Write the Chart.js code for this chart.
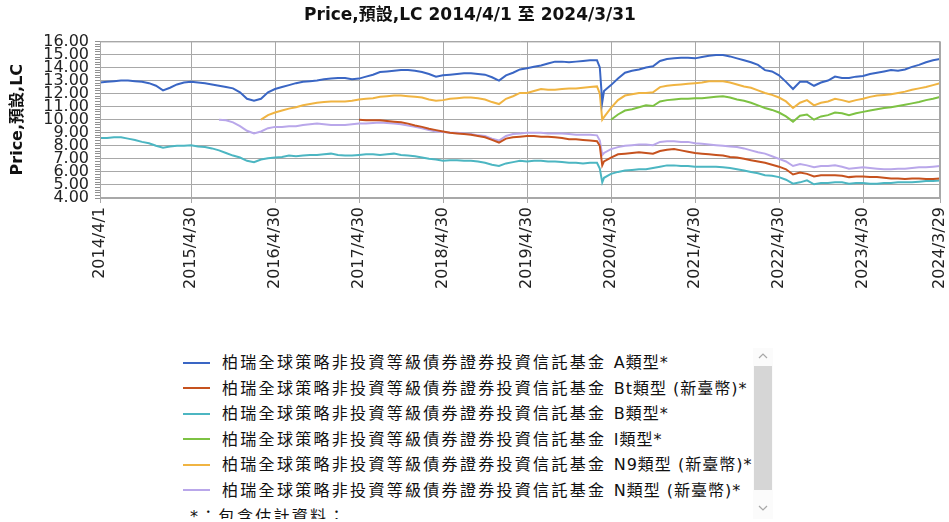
<!DOCTYPE html>
<html>
<head>
<meta charset="utf-8">
<script src="https://cdn.jsdelivr.net/npm/chart.js@4/dist/chart.umd.min.js"></script>
<style>
  html, body { margin: 0; padding: 0; background: #fff; width: 949px; height: 522px; overflow: hidden; }
  #wrap { position: absolute; left: 0; top: 0; width: 949px; height: 330px; }
  #legend {
    position: absolute; left: 176px; top: 350px; width: 576px; height: 169px;
    overflow: hidden; font-family: "DejaVu Sans", "Noto Sans CJK TC", sans-serif;
    font-size: 16px; letter-spacing: 2.3px; color: #111;
  }
  #legend .row { height: 25.6px; line-height: 25.6px; white-space: nowrap; padding-left: 7px; }
  #legend .sfx { letter-spacing: 1px; }
  #legend .sw { display: inline-block; width: 27px; height: 2px; vertical-align: middle; margin-right: 12px; position: relative; top: -1px; }
  #legend .note { height: 40px; line-height: 25.6px; padding-left: 14px; }
  /* fake scroll bar beside the legend */
  #sb { position: absolute; left: 753px; top: 348px; width: 20px; height: 171px; background: #fbfbfb; }
  #sb .thumb { position: absolute; left: 1px; top: 18px; width: 18px; height: 124px; background: #d6d6d6; }
  #sb svg { position: absolute; left: 5px; }
</style>
</head>
<body>
<div id="wrap"><canvas id="chart" width="949" height="330"></canvas></div>
<div id="legend"></div>
<div id="sb">
  <svg style="top:5px" width="10" height="6"><polyline points="1,5 5,1 9,5" fill="none" stroke="#a8a8a8" stroke-width="1.2"/></svg>
  <div class="thumb"></div>
  <svg style="top:157px" width="10" height="6"><polyline points="1,1 5,5 9,1" fill="none" stroke="#a8a8a8" stroke-width="1.2"/></svg>
</div>
<script>
// x positions in months since 2014/4/1 (two extra points for the March 2020 drop)
const months = [
  0,1,2,3,4,5,6,7,8,9,
  10,11,12,13,14,15,16,17,18,19,
  20,21,22,23,24,25,26,27,28,29,
  30,31,32,33,34,35,36,37,38,39,
  40,41,42,43,44,45,46,47,48,49,
  50,51,52,53,54,55,56,57,58,59,
  60,61,62,63,64,65,66,67,68,69,
  70,71,71.4,71.75,
  72,73,74,75,76,77,78,79,
  80,81,82,83,84,85,86,87,88,89,
  90,91,92,93,94,95,96,97,98,99,
  100,101,102,103,104,105,106,107,108,109,
  110,111,112,113,114,115,116,117,118,119,120
];

const tickPos = [0, 13, 25, 37, 49, 61, 73, 85, 97, 109, 120];
const tickLabels = ['2014/4/1', '2015/4/30', '2016/4/30', '2017/4/30', '2018/4/30', '2019/4/30',
  '2020/4/30', '2021/4/30', '2022/4/30', '2023/4/30', '2024/3/29'];

const fundName = '柏瑞全球策略非投資等級債券證券投資信託基金';
const seriesNames = ['A類型*', 'Bt類型 (新臺幣)*', 'B類型*', 'I類型*', 'N9類型 (新臺幣)*', 'N類型 (新臺幣)*'];
const seriesColors = ['#3a66c4', '#c6521e', '#4cb6c2', '#7dc243', '#f0b442', '#b9a7ea'];
const seriesStart = [0, 37, 0, 73, 23, 17];

const valA = [
  12.85,12.9,12.95,13.0,13.0,12.95,12.9,12.8,12.6,12.25,
  12.45,12.7,12.85,12.9,12.85,12.8,12.7,12.6,12.5,12.4,
  12.1,11.6,11.45,11.6,12.1,12.35,12.5,12.65,12.8,12.9,
  12.95,13.0,13.1,13.15,13.2,13.2,13.1,13.15,13.3,13.45,
  13.65,13.7,13.75,13.8,13.8,13.75,13.65,13.5,13.3,13.4,
  13.45,13.5,13.55,13.55,13.5,13.45,13.25,13.0,13.4,13.6,
  13.85,13.95,14.05,14.15,14.3,14.45,14.45,14.4,14.45,14.5,
  14.55,14.55,14.0,11.35,
  12.2,12.65,13.15,13.6,13.75,13.85,14.0,14.1,
  14.5,14.65,14.7,14.75,14.75,14.7,14.8,14.9,14.95,14.95,
  14.85,14.7,14.55,14.4,14.2,13.8,13.7,13.4,12.9,12.35,
  12.9,12.9,12.6,12.85,13.0,13.3,13.2,13.2,13.3,13.35,
  13.5,13.6,13.7,13.8,13.75,13.85,14.05,14.2,14.4,14.55,14.65
];

// Bt starts 2017/5
const valBt = [
  10.0,9.95,9.95,
  9.95,9.9,9.85,9.8,9.7,9.55,9.45,9.3,9.2,9.1,
  9.0,8.95,8.9,8.85,8.75,8.65,8.45,8.25,8.55,8.65,
  8.7,8.75,8.75,8.7,8.7,8.65,8.6,8.5,8.5,8.45,
  8.4,8.35,8.0,6.5,
  6.8,7.1,7.35,7.4,7.45,7.5,7.45,7.4,
  7.6,7.7,7.75,7.65,7.55,7.45,7.4,7.35,7.3,7.25,
  7.15,7.1,7.0,6.9,6.8,6.7,6.55,6.4,6.2,5.8,
  5.95,5.85,5.65,5.75,5.75,5.75,5.7,5.6,5.65,5.65,
  5.6,5.6,5.55,5.5,5.5,5.45,5.5,5.5,5.45,5.45,5.5
];

const valB = [
  8.6,8.6,8.65,8.65,8.55,8.45,8.3,8.2,8.0,7.85,
  7.95,8.0,8.0,8.05,7.95,7.9,7.8,7.65,7.45,7.25,
  7.1,6.85,6.75,6.95,7.05,7.1,7.15,7.25,7.2,7.25,
  7.3,7.3,7.35,7.4,7.3,7.25,7.25,7.3,7.35,7.35,
  7.3,7.35,7.4,7.3,7.25,7.2,7.1,7.0,6.95,6.85,
  6.9,6.9,6.85,6.85,6.8,6.7,6.55,6.45,6.65,6.75,
  6.85,6.8,6.85,6.85,6.8,6.8,6.75,6.7,6.7,6.65,
  6.7,6.7,6.25,5.2,
  5.55,5.85,6.0,6.1,6.15,6.2,6.2,6.3,
  6.4,6.5,6.5,6.45,6.45,6.4,6.4,6.4,6.4,6.35,
  6.3,6.2,6.1,6.0,5.9,5.75,5.7,5.6,5.4,5.1,
  5.2,5.35,5.05,5.15,5.15,5.2,5.2,5.1,5.15,5.15,
  5.1,5.1,5.15,5.15,5.2,5.2,5.2,5.25,5.3,5.3,5.35
];

// I starts 2020/5
const valI = [
  10.0,10.4,10.7,10.8,10.95,11.1,11.05,
  11.4,11.5,11.55,11.6,11.6,11.65,11.65,11.7,11.75,11.8,
  11.7,11.55,11.45,11.3,11.1,10.9,10.75,10.55,10.25,9.85,
  10.3,10.4,10.0,10.25,10.35,10.55,10.5,10.35,10.5,10.6,
  10.7,10.8,10.9,10.95,11.05,11.15,11.25,11.35,11.5,11.6,11.75
];

// N9 starts 2016/3
const valN9 = [
  10.0,10.35,10.55,10.7,10.85,10.95,11.1,
  11.2,11.3,11.35,11.4,11.4,11.4,11.45,11.55,11.6,11.65,
  11.75,11.8,11.85,11.85,11.8,11.75,11.7,11.55,11.45,11.5,
  11.6,11.65,11.7,11.7,11.65,11.55,11.35,11.2,11.6,11.8,
  12.05,12.05,12.2,12.35,12.3,12.3,12.35,12.4,12.4,12.45,
  12.5,12.55,12.0,10.0,
  10.2,10.9,11.5,11.85,11.95,12.05,12.05,12.1,
  12.5,12.6,12.65,12.7,12.75,12.8,12.85,12.95,12.95,12.95,
  12.85,12.7,12.55,12.45,12.25,12.05,11.9,11.7,11.4,10.9,
  11.3,11.5,11.1,11.3,11.4,11.6,11.5,11.35,11.5,11.6,
  11.75,11.85,11.9,11.95,12.05,12.15,12.3,12.4,12.5,12.65,12.8
];

// N starts 2015/9
const valN = [
  10.0,9.95,9.8,
  9.5,9.15,8.95,9.1,9.35,9.45,9.45,9.5,9.5,9.6,
  9.65,9.7,9.65,9.6,9.6,9.6,9.65,9.7,9.7,9.75,
  9.78,9.75,9.7,9.65,9.55,9.45,9.35,9.2,9.1,9.05,
  9.0,9.0,8.95,8.9,8.8,8.75,8.55,8.4,8.75,8.9,
  8.95,9.0,9.0,9.0,8.95,8.95,8.95,8.9,8.85,8.85,
  8.85,8.8,8.4,7.3,
  7.45,7.75,7.9,8.0,8.05,8.1,8.1,8.05,
  8.3,8.35,8.35,8.3,8.3,8.2,8.15,8.1,8.05,8.0,
  7.95,7.9,7.8,7.65,7.5,7.4,7.2,7.0,6.8,6.45,
  6.6,6.5,6.35,6.45,6.45,6.5,6.4,6.25,6.3,6.35,
  6.3,6.25,6.2,6.2,6.25,6.25,6.3,6.35,6.35,6.4,6.45
];

const seriesValues = [valA, valBt, valB, valI, valN9, valN];

const FONT = '"DejaVu Sans", "Noto Sans CJK TC", sans-serif';
const GRID = '#a8a8a8';

function toPoints(vals, start) {
  const i0 = months.indexOf(start);
  return vals.map((v, i) => ({ x: months[i0 + i], y: v })).filter(p => p.x !== undefined);
}

// grey frame around the plot area
const framePlugin = {
  id: 'frame',
  afterDraw(chart) {
    const a = chart.chartArea, ctx = chart.ctx;
    ctx.save();
    ctx.strokeStyle = GRID;
    ctx.lineWidth = 1;
    ctx.strokeRect(a.left + 0.5, a.top + 0.5, a.right - a.left - 1, a.bottom - a.top - 1);
    ctx.restore();
  }
};

const isWhole = v => Math.abs(v - Math.round(v)) < 1e-6;

new Chart(document.getElementById('chart'), {
  type: 'line',
  data: {
    datasets: seriesValues.map((vals, i) => ({
      label: fundName + ' ' + seriesNames[i],
      data: toPoints(vals, seriesStart[i]),
      borderColor: seriesColors[i],
      backgroundColor: seriesColors[i],
      borderWidth: 2,
      pointRadius: 0,
      tension: 0,
      fill: false
    }))
  },
  options: {
    responsive: false,
    animation: false,
    layout: { padding: { left: 0, right: 9, top: 0, bottom: 0 } },
    plugins: {
      legend: { display: false },
      tooltip: { enabled: false },
      title: {
        display: true,
        text: 'Price,預設,LC 2014/4/1 至 2024/3/31',
        color: '#111',
        font: { family: FONT, size: 17, weight: 'bold' },
        padding: { top: 5, bottom: 16 }
      }
    },
    scales: {
      x: {
        type: 'linear', min: 0, max: 120,
        afterBuildTicks(scale) { scale.ticks = tickPos.map(v => ({ value: v })); },
        afterFit(scale) { scale.height = 330 - 198; scale.paddingLeft = 0; scale.paddingRight = 0; },
        ticks: {
          autoSkip: false, minRotation: 90, maxRotation: 90, padding: 4,
          color: '#222', font: { family: FONT, size: 16 },
          callback: (v) => tickLabels[tickPos.indexOf(v)]
        },
        grid: { color: GRID, borderDash: [1, 2], tickColor: GRID, tickLength: 5, tickBorderDash: [] },
        border: { color: GRID }
      },
      y: {
        min: 4, max: 16,
        afterFit(scale) { scale.width = 100; },
        ticks: {
          stepSize: 0.2, maxTicksLimit: 100, autoSkip: false, padding: 6,
          color: '#222', font: { family: FONT, size: 16 }, z: 1,
          callback: (v) => isWhole(v) ? Math.round(v).toFixed(2) : ''
        },
        grid: {
          color: (c) => isWhole(c.tick.value) ? GRID : 'rgba(0,0,0,0)',
          borderDash: [1, 2], tickColor: '#909090', tickLength: 5, tickBorderDash: []
        },
        border: { color: GRID },
        title: {
          display: true, text: 'Price,預設,LC', color: '#111',
          font: { family: FONT, size: 16, weight: 'bold' },
          padding: { top: 8, bottom: 0 }
        }
      }
    }
  },
  plugins: [framePlugin]
});

// html legend under the chart
const legendEl = document.getElementById('legend');
seriesNames.forEach((name, i) => {
  const row = document.createElement('div');
  row.className = 'row';
  const sw = document.createElement('span');
  sw.className = 'sw';
  sw.style.background = seriesColors[i];
  row.appendChild(sw);
  row.appendChild(document.createTextNode(fundName + ' '));
  const sfx = document.createElement('span');
  sfx.className = 'sfx';
  sfx.textContent = name;
  row.appendChild(sfx);
  legendEl.appendChild(row);
});
const note = document.createElement('div');
note.className = 'note';
note.textContent = '*：包含估計資料；';
legendEl.appendChild(note);
</script>
</body>
</html>
